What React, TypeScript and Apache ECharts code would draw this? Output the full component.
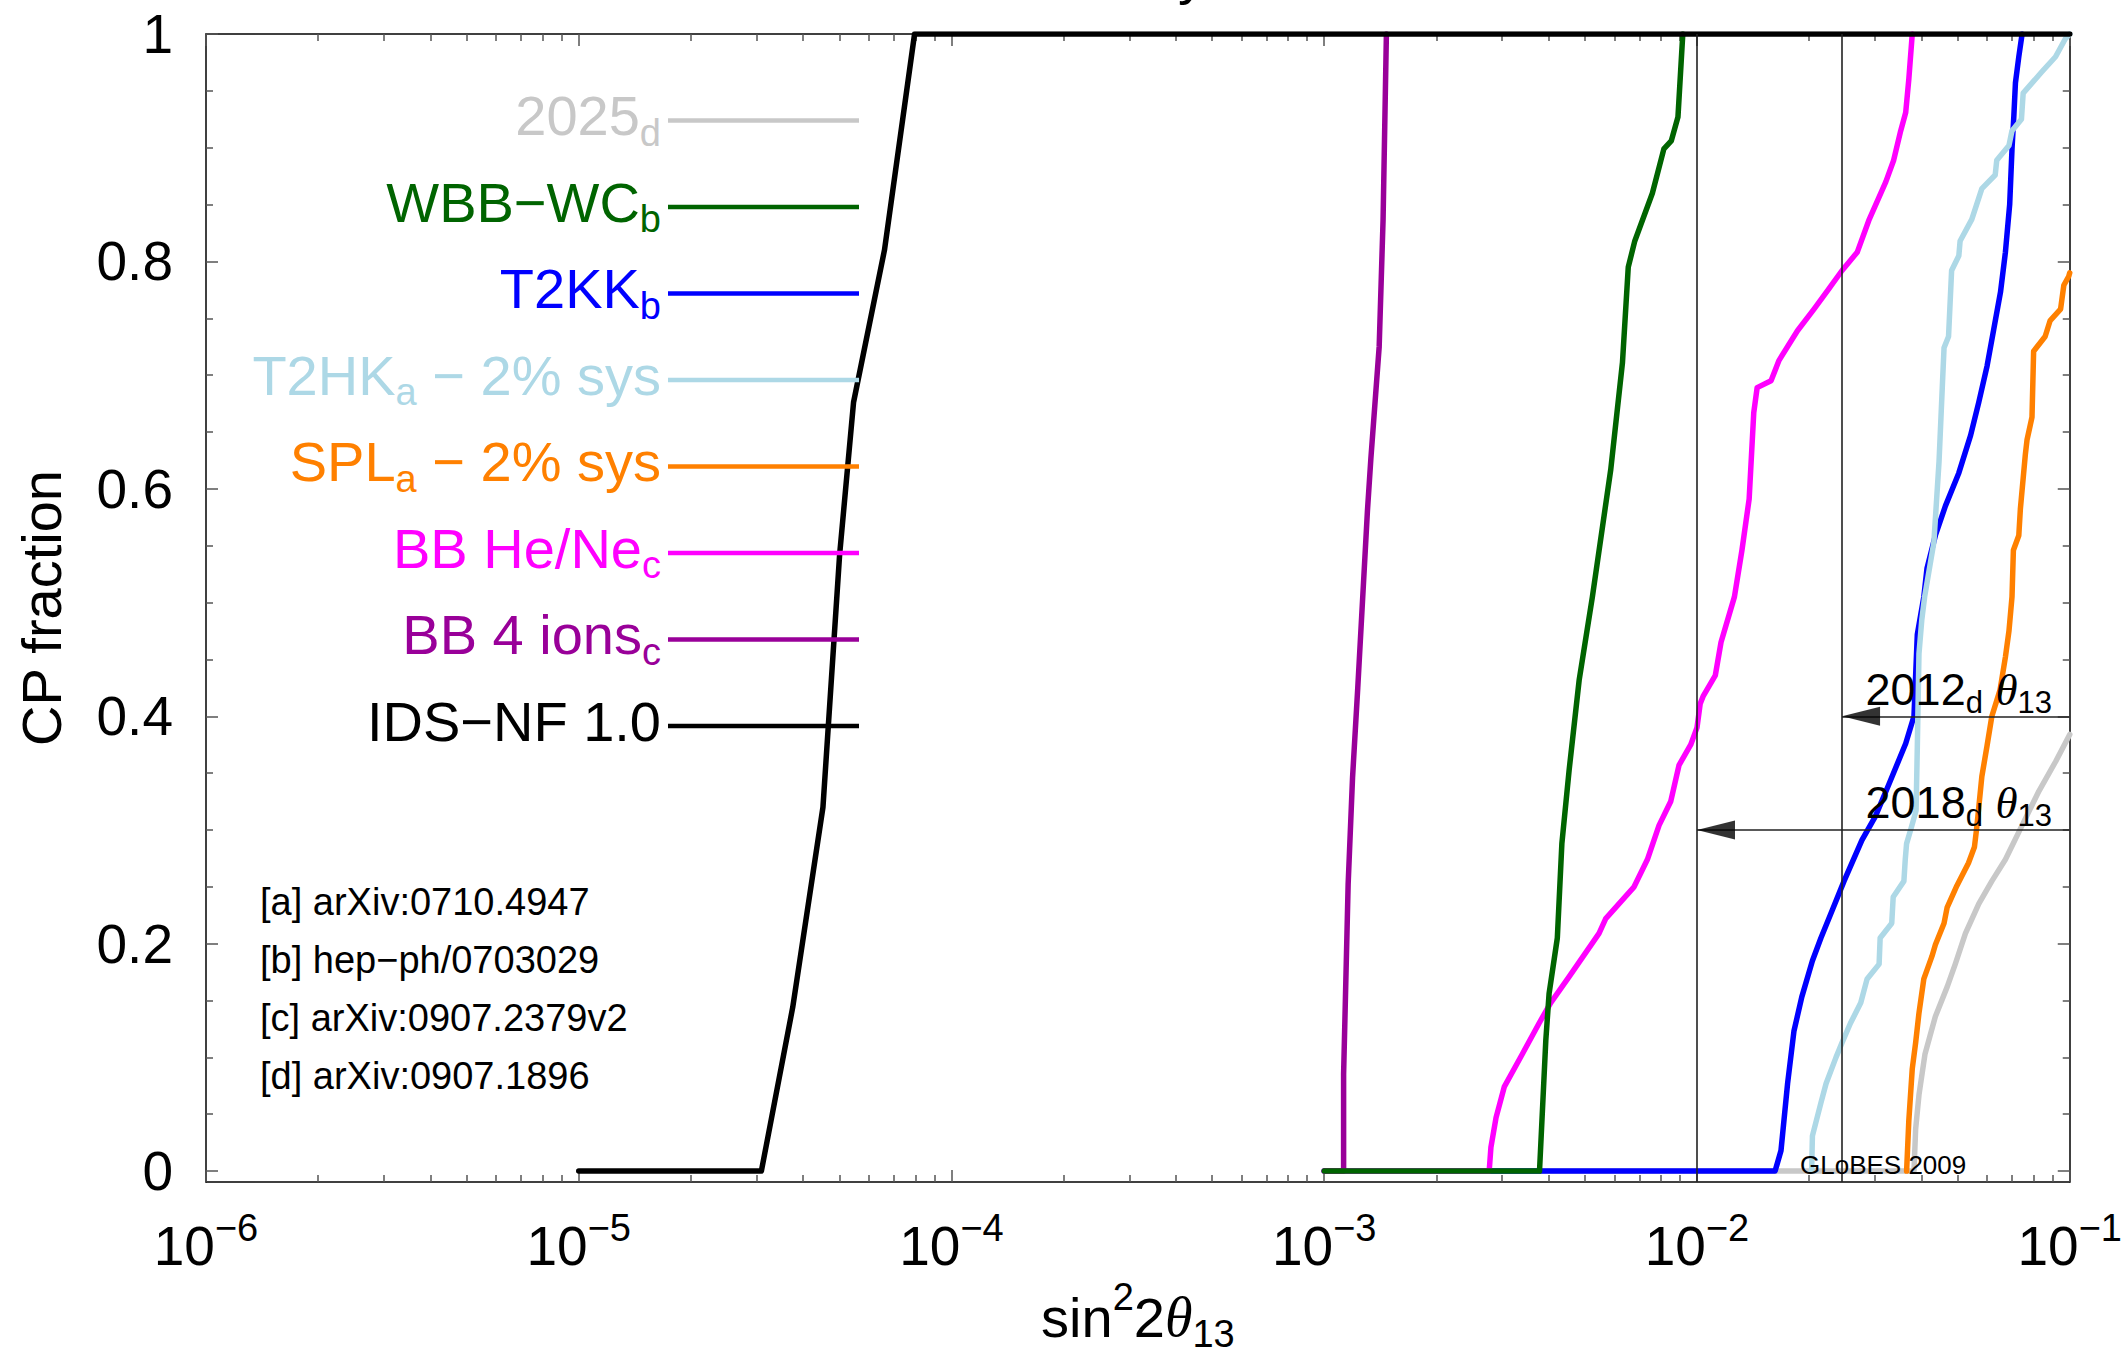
import React, { useEffect, useRef } from 'react';
import * as echarts from 'echarts';

const FONT = '"Liberation Sans", Arial, Helvetica, sans-serif';
const SERIF = '"Liberation Serif", "Times New Roman", serif';

// ---------- data: [sin^2 2θ13, CP fraction] ----------
const idsNF: number[][] = [[1e-5, 0], [3.09e-5, 0], [3.75e-5, 0.144], [4.52e-5, 0.32], [5.01e-5, 0.542], [5.46e-5, 0.676], [6.61e-5, 0.81], [7.96e-5, 1], [1e-1, 1]];
const bb4ions: number[][] = [[1e-3, 0], [1.127e-3, 0], [1.127e-3, 0.085], [1.159e-3, 0.252], [1.191e-3, 0.346], [1.23e-3, 0.425], [1.306e-3, 0.581], [1.334e-3, 0.627], [1.404e-3, 0.725], [1.438e-3, 0.836], [1.468e-3, 1]];
const wbbWC: number[][] = [[1e-3, 0], [3.78e-3, 0], [3.93e-3, 0.115], [4.01e-3, 0.156], [4.22e-3, 0.205], [4.34e-3, 0.288], [4.54e-3, 0.353], [4.83e-3, 0.432], [5.24e-3, 0.505], [5.87e-3, 0.617], [6.31e-3, 0.711], [6.54e-3, 0.795], [6.81e-3, 0.818], [7.59e-3, 0.86], [8.15e-3, 0.899], [8.53e-3, 0.906], [8.89e-3, 0.927], [9.16e-3, 1]];
const bbHeNe: number[][] = [[1e-3, 0], [2.77e-3, 0], [2.8e-3, 0.021], [2.89e-3, 0.047], [3.04e-3, 0.074], [3.4e-3, 0.103], [3.77e-3, 0.13], [4.05e-3, 0.148], [4.54e-3, 0.171], [5.46e-3, 0.209], [5.69e-3, 0.222], [6.78e-3, 0.25], [7.36e-3, 0.274], [7.91e-3, 0.304], [8.5e-3, 0.325], [8.95e-3, 0.357], [9.62e-3, 0.375], [1.0e-2, 0.39], [1.02e-2, 0.411], [1.04e-2, 0.418], [1.12e-2, 0.436], [1.16e-2, 0.465], [1.26e-2, 0.505], [1.32e-2, 0.546], [1.38e-2, 0.591], [1.42e-2, 0.667], [1.45e-2, 0.689], [1.58e-2, 0.695], [1.66e-2, 0.713], [1.86e-2, 0.739], [2.06e-2, 0.758], [2.26e-2, 0.776], [2.45e-2, 0.792], [2.69e-2, 0.808], [2.89e-2, 0.836], [3.21e-2, 0.87], [3.37e-2, 0.889], [3.52e-2, 0.915], [3.63e-2, 0.931], [3.7e-2, 0.96], [3.78e-2, 1]];
const t2kk: number[][] = [[1e-3, 0], [1.62e-2, 0], [1.68e-2, 0.018], [1.75e-2, 0.077], [1.82e-2, 0.123], [1.91e-2, 0.153], [2.04e-2, 0.185], [2.15e-2, 0.205], [2.31e-2, 0.23], [2.48e-2, 0.255], [2.77e-2, 0.291], [3.01e-2, 0.312], [3.27e-2, 0.34], [3.63e-2, 0.376], [3.82e-2, 0.4], [3.9e-2, 0.472], [4.06e-2, 0.505], [4.14e-2, 0.53], [4.36e-2, 0.559], [4.64e-2, 0.585], [5.04e-2, 0.614], [5.42e-2, 0.647], [5.7e-2, 0.676], [6.0e-2, 0.708], [6.25e-2, 0.74], [6.52e-2, 0.773], [6.72e-2, 0.808], [6.9e-2, 0.85], [7.0e-2, 0.899], [7.08e-2, 0.928], [7.15e-2, 0.957], [7.3e-2, 0.98], [7.45e-2, 1]];
const t2hk: number[][] = [[2.03e-2, 0], [2.04e-2, 0.031], [2.15e-2, 0.06], [2.22e-2, 0.077], [2.36e-2, 0.1], [2.45e-2, 0.113], [2.58e-2, 0.13], [2.75e-2, 0.148], [2.86e-2, 0.169], [3.08e-2, 0.182], [3.1e-2, 0.205], [3.33e-2, 0.218], [3.36e-2, 0.241], [3.59e-2, 0.255], [3.62e-2, 0.274], [3.65e-2, 0.288], [3.75e-2, 0.301], [3.87e-2, 0.317], [3.9e-2, 0.373], [3.94e-2, 0.455], [4.01e-2, 0.485], [4.08e-2, 0.505], [4.32e-2, 0.553], [4.46e-2, 0.624], [4.55e-2, 0.689], [4.6e-2, 0.724], [4.73e-2, 0.734], [4.82e-2, 0.792], [5.04e-2, 0.805], [5.08e-2, 0.818], [5.46e-2, 0.837], [5.81e-2, 0.864], [6.31e-2, 0.876], [6.37e-2, 0.889], [6.87e-2, 0.902], [7.0e-2, 0.915], [7.42e-2, 0.925], [7.5e-2, 0.948], [8.43e-2, 0.967], [9.16e-2, 0.98], [9.74e-2, 0.996], [1e-1, 1]];
const spl: number[][] = [[3.65e-2, 0], [3.7e-2, 0.044], [3.78e-2, 0.09], [3.86e-2, 0.113], [3.94e-2, 0.139], [4.06e-2, 0.169], [4.27e-2, 0.189], [4.36e-2, 0.199], [4.6e-2, 0.218], [4.69e-2, 0.232], [4.98e-2, 0.251], [5.35e-2, 0.271], [5.55e-2, 0.285], [5.62e-2, 0.3], [5.67e-2, 0.312], [5.81e-2, 0.347], [6.0e-2, 0.374], [6.18e-2, 0.4], [6.5e-2, 0.423], [6.72e-2, 0.452], [6.87e-2, 0.475], [7.0e-2, 0.505], [7.06e-2, 0.546], [7.3e-2, 0.559], [7.37e-2, 0.582], [7.6e-2, 0.63], [7.68e-2, 0.643], [7.92e-2, 0.663], [8.0e-2, 0.721], [8.59e-2, 0.734], [8.86e-2, 0.748], [9.45e-2, 0.758], [9.64e-2, 0.779], [9.94e-2, 0.787], [1e-1, 0.79]];
const y2025: number[][] = [[1e-3, 0], [3.82e-2, 0], [3.86e-2, 0.037], [3.94e-2, 0.067], [4.09e-2, 0.103], [4.36e-2, 0.136], [4.69e-2, 0.162], [4.93e-2, 0.182], [5.25e-2, 0.209], [5.7e-2, 0.235], [6.18e-2, 0.255], [6.72e-2, 0.274], [7.45e-2, 0.304], [8.26e-2, 0.334], [9.16e-2, 0.36], [1e-1, 0.384]];

// legend entries (top to bottom)
const legendLabels = ['{m|2025}{s|d}', '{m|WBB−WC}{s|b}', '{m|T2KK}{s|b}', '{m|T2HK}{s|a}{m| − 2% sys}', '{m|SPL}{s|a}{m| − 2% sys}', '{m|BB He/Ne}{s|c}', '{m|BB 4 ions}{s|c}', '{m|IDS−NF 1.0}'];
const legendColors = ['#c8c8c8', '#006400', '#0000ff', '#add8e6', '#ff8000', '#ff00ff', '#990099', '#000000'];
const references = ['[a] arXiv:0710.4947', '[b] hep−ph/0703029', '[c] arXiv:0907.2379v2', '[d] arXiv:0907.1896'];

// θ13 bounds (vertical lines) and arrows
const theta2018 = 0.01;
const theta2012 = 0.0245;
const arrow2012 = [theta2012, 0.4];
const arrow2018 = [theta2018, 0.3];

// axes
const X_MIN = 1e-6, X_MAX = 1e-1, Y_MIN = -0.0096, Y_MAX = 1;
const yMajor = [0, 0.2, 0.4, 0.6, 0.8, 1];
const yMinor = [0.05, 0.1, 0.15, 0.25, 0.3, 0.35, 0.45, 0.5, 0.55, 0.65, 0.7, 0.75, 0.85, 0.9, 0.95];
const xMinorMult = [2, 3, 4, 5, 6, 7, 8, 9];
const xDecades = [-6, -5, -4, -3, -2];
const xMinor: number[] = [];
xDecades.forEach((e) => xMinorMult.forEach((m) => xMinor.push(Number((m * Math.pow(10, e)).toPrecision(3)))));

const GRID = { left: 206, right: 54, top: 34, bottom: 170 };

function buildOption(): any {
  const tickStyle = { color: '#555', width: 1.5 };
  const axisLineStyle = { color: '#000', width: 1.5 };
  const baseX = { type: 'log', logBase: 10, min: X_MIN, max: X_MAX, splitLine: { show: false }, minorTick: { show: false }, minorSplitLine: { show: false } };
  const baseY = { type: 'value', min: Y_MIN, max: Y_MAX, splitLine: { show: false }, minorTick: { show: false } };

  const xRich = {
    m: { fontSize: 55, fontFamily: FONT, color: '#000', verticalAlign: 'bottom', lineHeight: 64 },
    s: { fontSize: 38, fontFamily: FONT, color: '#000', verticalAlign: 'top', lineHeight: 64 },
  };
  const nameRich = {
    m: { fontSize: 56, fontFamily: FONT, color: '#000', verticalAlign: 'top', padding: [12, 0, 0, 0] },
    p: { fontSize: 38, fontFamily: FONT, color: '#000', verticalAlign: 'top', padding: [1, 0, 0, 0] },
    t: { fontSize: 56, fontFamily: SERIF, fontStyle: 'italic', color: '#000', verticalAlign: 'top', padding: [12, 0, 0, 0] },
    s: { fontSize: 38, fontFamily: FONT, color: '#000', verticalAlign: 'top', padding: [38, 0, 0, 0] },
  };

  const xAxis = [
    {
      ...baseX, position: 'bottom',
      axisLine: { show: true, onZero: false, lineStyle: axisLineStyle },
      axisTick: { show: true, inside: true, length: 12, lineStyle: tickStyle },
      axisLabel: {
        show: true, margin: 27,
        formatter: (v: number) => `{m|10}{s|−${Math.abs(Math.round(Math.log10(v)))}}`,
        rich: xRich,
      },
      name: '{m|sin}{p|2}{m|2}{t|θ}{s|13}', nameLocation: 'middle', nameGap: 95,
      nameTextStyle: { rich: nameRich, fontSize: 56, fontFamily: FONT, color: '#000' },
    },
    { ...baseX, position: 'bottom', axisLine: { show: false, onZero: false }, axisTick: { show: true, inside: true, length: 7, customValues: xMinor, lineStyle: tickStyle }, axisLabel: { show: false } },
    { ...baseX, position: 'top', axisLine: { show: true, onZero: false, lineStyle: axisLineStyle }, axisTick: { show: true, inside: true, length: 12, lineStyle: tickStyle }, axisLabel: { show: false } },
    { ...baseX, position: 'top', axisLine: { show: false, onZero: false }, axisTick: { show: true, inside: true, length: 7, customValues: xMinor, lineStyle: tickStyle }, axisLabel: { show: false } },
  ];
  const yAxis = [
    {
      ...baseY, position: 'left',
      axisLine: { show: true, onZero: false, lineStyle: axisLineStyle },
      axisTick: { show: true, inside: true, length: 12, customValues: yMajor, lineStyle: tickStyle },
      axisLabel: { show: true, customValues: yMajor, margin: 33, fontSize: 55, fontFamily: FONT, color: '#000', formatter: (v: number) => String(v) },
      name: 'CP fraction', nameLocation: 'middle', nameGap: 137,
      nameTextStyle: { fontSize: 56, fontFamily: FONT, color: '#000' },
    },
    { ...baseY, position: 'left', axisLine: { show: false, onZero: false }, axisTick: { show: true, inside: true, length: 7, customValues: yMinor, lineStyle: tickStyle }, axisLabel: { show: false } },
    { ...baseY, position: 'right', axisLine: { show: true, onZero: false, lineStyle: axisLineStyle }, axisTick: { show: true, inside: true, length: 12, customValues: yMajor, lineStyle: tickStyle }, axisLabel: { show: false } },
    { ...baseY, position: 'right', axisLine: { show: false, onZero: false }, axisTick: { show: true, inside: true, length: 7, customValues: yMinor, lineStyle: tickStyle }, axisLabel: { show: false } },
  ];

  const curve = (name: string, data: number[][], color: string) => ({
    type: 'line', name, data, xAxisIndex: 0, yAxisIndex: 0,
    symbol: 'none', showSymbol: false, smooth: false,
    lineStyle: { color, width: 5.5, join: 'round', cap: 'round' },
    itemStyle: { color }, silent: true,
  });

  const series: any[] = [
    curve('2025', y2025, legendColors[0]),
    curve('T2KK', t2kk, legendColors[2]),
    curve('T2HK', t2hk, legendColors[3]),
    curve('SPL', spl, legendColors[4]),
    curve('BB He/Ne', bbHeNe, legendColors[5]),
    curve('BB 4 ions', bb4ions, legendColors[6]),
    curve('WBB−WC', wbbWC, legendColors[1]),
    {
      ...curve('IDS−NF 1.0', idsNF, legendColors[7]),
      markLine: {
        silent: true, symbol: ['none', 'none'], label: { show: false }, precision: 8,
        lineStyle: { color: '#222', width: 1.6, type: 'solid' },
        data: [
          { xAxis: theta2018 },
          { xAxis: theta2012 },
          [{ coord: arrow2012 }, { coord: [X_MAX, arrow2012[1]] }],
          [{ coord: arrow2018 }, { coord: [X_MAX, arrow2018[1]] }],
        ],
      },
    },
    {
      type: 'scatter', name: 'arrows', xAxisIndex: 0, yAxisIndex: 0, silent: true,
      data: [arrow2012, arrow2018], symbol: 'triangle', symbolRotate: 90,
      symbolSize: [19, 38], symbolOffset: [19, 0], itemStyle: { color: '#000' }, z: 5,
    },
  ];

  const graphic: any[] = [];
  const legendRight = 661;
  const legendLineX1 = 668, legendLineX2 = 859;
  legendLabels.forEach((lab, i) => {
    const ly = 120.6 + i * 86.5;
    const c = legendColors[i];
    graphic.push({
      type: 'text', x: legendRight, y: ly - 1, silent: true, z: 100,
      style: {
        text: lab, align: 'right', verticalAlign: 'middle', fill: c, fontSize: 56, fontFamily: FONT,
        rich: {
          m: { fontSize: 56, fontFamily: FONT, fill: c, lineHeight: 64, verticalAlign: 'top' },
          s: { fontSize: 38, fontFamily: FONT, fill: c, lineHeight: 64, verticalAlign: 'top', padding: [26, 0, 0, 0] },
        },
      },
    });
    graphic.push({ type: 'line', silent: true, z: 100, shape: { x1: legendLineX1, y1: ly, x2: legendLineX2, y2: ly }, style: { stroke: c, lineWidth: 4.5 } });
  });
  references.forEach((r, i) => {
    graphic.push({ type: 'text', x: 260, y: 902 + i * 58, silent: true, z: 100, style: { text: r, align: 'left', verticalAlign: 'middle', fill: '#000', fontSize: 38, fontFamily: FONT } });
  });
  graphic.push({ type: 'text', x: 1800, y: 1165, silent: true, z: 100, style: { text: 'GLoBES 2009', align: 'left', verticalAlign: 'middle', fill: '#000', fontSize: 26, fontFamily: FONT } });
  const arrowRich = {
    m: { fontSize: 45, fontFamily: FONT, fill: '#000', verticalAlign: 'top' },
    s: { fontSize: 31, fontFamily: FONT, fill: '#000', verticalAlign: 'top', padding: [20, 0, 0, 0] },
    t: { fontSize: 45, fontFamily: SERIF, fontStyle: 'italic', fill: '#000', verticalAlign: 'top' },
  };
  graphic.push({ type: 'text', x: 2052, y: 667, silent: true, z: 100, style: { text: '{m|2012}{s|d}{m| }{t|θ}{s|13}', align: 'right', verticalAlign: 'top', fill: '#000', fontSize: 45, fontFamily: FONT, rich: arrowRich } });
  graphic.push({ type: 'text', x: 2052, y: 780, silent: true, z: 100, style: { text: '{m|2018}{s|d}{m| }{t|θ}{s|13}', align: 'right', verticalAlign: 'top', fill: '#000', fontSize: 45, fontFamily: FONT, rich: arrowRich } });
  // bottom of the cropped title glyph at the very top of the image (cut off in the reference too)
  graphic.push({ type: 'text', x: 1192, y: -27, silent: true, z: 100, style: { text: 'y', align: 'center', verticalAlign: 'middle', fill: '#000', fontSize: 56, fontFamily: FONT } });

  return {
    animation: false,
    backgroundColor: '#ffffff',
    textStyle: { fontFamily: FONT },
    grid: { ...GRID, containLabel: false },
    xAxis, yAxis, series, graphic,
  };
}

export default function App() {
  const ref = useRef<HTMLDivElement>(null);
  useEffect(() => {
    if (!ref.current) return;
    const chart = echarts.init(ref.current, null, { renderer: 'svg' });
    chart.setOption(buildOption());
    return () => chart.dispose();
  }, []);
  return <div ref={ref} style={{ position: 'fixed', left: 0, top: 0, width: 2125, height: 1358, background: '#fff' }} />;
}
